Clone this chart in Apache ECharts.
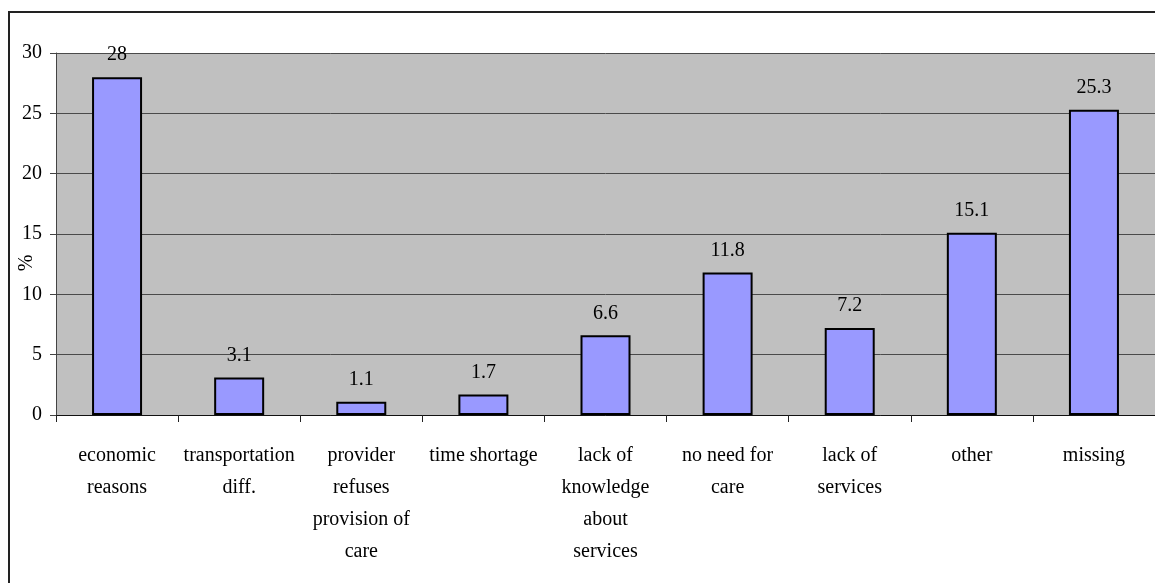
<!DOCTYPE html>
<html>
<head>
<meta charset="utf-8">
<script src="https://cdn.jsdelivr.net/npm/echarts@6/dist/echarts.min.js"></script>
<style>
  html, body { margin: 0; padding: 0; background: #ffffff; }
  #chart { width: 1155px; height: 583px; }
</style>
</head>
<body>
<div id="chart"></div>
<script>
// Reasons for not seeking care (%)
const categories = [
  'economic\nreasons',
  'transportation\ndiff.',
  'provider\nrefuses\nprovision of\ncare',
  'time shortage',
  'lack of\nknowledge\nabout\nservices',
  'no need for\ncare',
  'lack of\nservices',
  'other',
  'missing'
];
const percentValues = [28, 3.1, 1.1, 1.7, 6.6, 11.8, 7.2, 15.1, 25.3];
const axisTitle = '%';

const FONT = '"Liberation Serif", "Times New Roman", serif';

const chart = echarts.init(document.getElementById('chart'), null, { renderer: 'canvas' });

chart.setOption({
  backgroundColor: '#ffffff',
  animation: false,
  grid: {
    left: 56,
    top: 53,
    width: 1101,
    height: 362,
    show: true,
    backgroundColor: '#c0c0c0',
    borderWidth: 0
  },
  xAxis: {
    type: 'category',
    data: categories,
    axisLine: { lineStyle: { color: '#111', width: 1 } },
    axisTick: { show: true, length: 7, alignWithLabel: false, lineStyle: { color: '#222' } },
    axisLabel: {
      interval: 0,
      margin: 25,
      color: '#000',
      fontFamily: FONT,
      fontSize: 20,
      lineHeight: 32,
      align: 'center'
    },
    splitLine: { show: false }
  },
  yAxis: {
    type: 'value',
    min: 0,
    max: 30,
    interval: 5,
    axisLine: { show: true, lineStyle: { color: '#444', width: 1 } },
    axisTick: { show: true, length: 6, lineStyle: { color: '#444' } },
    axisLabel: {
      margin: 14,
      color: '#000',
      fontFamily: FONT,
      fontSize: 20
    },
    splitLine: { show: true, lineStyle: { color: '#4a4a4a', width: 1 } }
  },
  series: [{
    type: 'bar',
    data: percentValues,
    barWidth: 50,
    itemStyle: {
      color: '#9999ff',
      borderColor: '#000',
      borderWidth: 2
    },
    label: {
      show: true,
      position: 'top',
      distance: 12,
      color: '#000',
      fontFamily: FONT,
      fontSize: 20
    }
  }],
  graphic: [
    {
      type: 'rect',
      shape: { x: 9, y: 12, width: 1160, height: 590 },
      style: { fill: 'none', stroke: '#222', lineWidth: 2 },
      z: 100
    },
    {
      type: 'text',
      x: 27,
      y: 263,
      rotation: Math.PI / 2,
      style: {
        text: axisTitle,
        fill: '#000',
        font: '20px ' + FONT,
        textAlign: 'center',
        textVerticalAlign: 'middle'
      }
    }
  ]
});
</script>
</body>
</html>
